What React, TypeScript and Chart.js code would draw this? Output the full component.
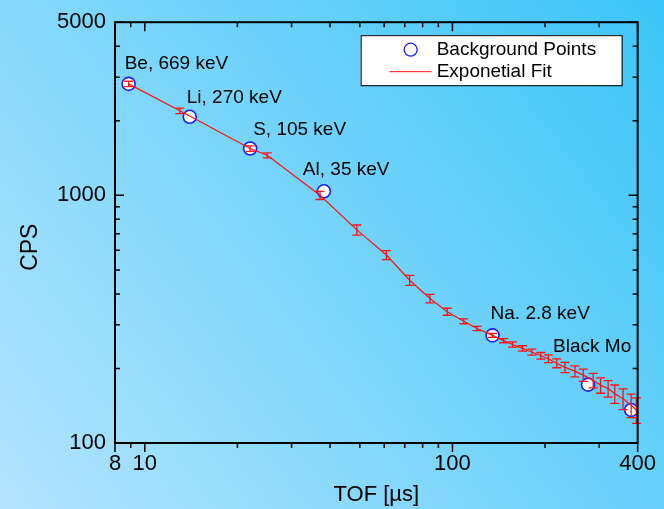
import { useEffect, useRef } from "react";
import { Chart, registerables } from "chart.js";

Chart.register(...registerables);

// ---- data ----
const bgTof = [8.86, 14.0, 22.0, 38.2, 135, 276, 381];
const bgCps = [2818, 2075, 1545, 1038, 272, 172, 136];
const bgLabels = ["Be, 669 keV", "Li, 270 keV", "S, 105 keV", "Al, 35 keV", "Na. 2.8 keV", "Black Mo", ""];

const fitTof = [8.86, 13.0, 22.0, 25.0, 37.1, 48.9, 61.0, 72.6, 84.5, 96.2, 108.8, 120.2, 135, 146.6, 156.8, 168.9, 181.2, 193.8, 205, 218.3, 232.2, 250.2, 266.2, 286.8, 303, 320.7, 337, 358.6, 381, 396.4];
const fitCps = [2818, 2194, 1545, 1451, 1000, 725, 574, 454, 383, 339, 310, 290, 272, 259, 250, 241, 233, 225, 219, 210, 202, 195, 188, 179, 171, 166, 158, 151, 142, 136];
const fitErr = [70, 55, 40, 34, 38, 34, 24, 21, 15, 11, 7, 5.5, 5, 5, 6, 6, 6.5, 7, 8, 8.7, 9.5, 10, 10.7, 12, 12.2, 12.7, 13.5, 14.5, 15.5, 16];

const xTicks = [8, 9, 10, 20, 30, 40, 50, 60, 70, 80, 90, 100, 200, 300, 400];
const xTickLabels = ["8", "", "10", "", "", "", "", "", "", "", "", "100", "", "", "400"];
const xMajor = [8, 10, 100, 400];
const yTicks = [100, 200, 300, 400, 500, 600, 700, 800, 900, 1000, 2000, 3000, 4000, 5000];
const yTickLabels = ["100", "", "", "", "", "", "", "", "", "1000", "", "", "", "5000"];
const yMajor = [100, 1000, 5000];

const xTitle = "TOF [µs]";
const yTitle = "CPS";
const legendLabels = ["Background Points", "Exponetial Fit"];

// ---- layout / style (not data) ----
const LABEL_OFFSETS: [number, number][] = [[-4, -15], [-3, -14], [3, -14], [-21, -16], [-2, -16], [-35, -33], [0, 0]];
const FONT = "'Liberation Sans', Arial, sans-serif";
const BLUE = "#1c1cff";
const RED = "#ff1010";

const decorPlugin = {
  id: "decor",
  beforeDraw(chart: any) {
    const { ctx, width, height } = chart;
    const g = ctx.createLinearGradient(0, height, width, 0);
    g.addColorStop(0, "#b4e4fd");
    g.addColorStop(1, "#3bc5f8");
    ctx.save();
    ctx.fillStyle = g;
    ctx.fillRect(0, 0, width, height);
    ctx.restore();
  },
  afterDatasetsDraw(chart: any) {
    const { ctx, chartArea: ca } = chart;
    const x = chart.scales.x;
    const y = chart.scales.y;

    // error bars
    ctx.save();
    ctx.strokeStyle = RED;
    ctx.lineWidth = 1.3;
    fitTof.forEach((t, i) => {
      const px = x.getPixelForValue(t);
      const top = y.getPixelForValue(fitCps[i] + fitErr[i]);
      const bot = y.getPixelForValue(fitCps[i] - fitErr[i]);
      ctx.beginPath();
      ctx.moveTo(px, top);
      ctx.lineTo(px, bot);
      ctx.moveTo(px - 4.5, top);
      ctx.lineTo(px + 4.5, top);
      ctx.moveTo(px - 4.5, bot);
      ctx.lineTo(px + 4.5, bot);
      ctx.stroke();
    });
    ctx.restore();

    // frame
    ctx.save();
    ctx.strokeStyle = "#000";
    ctx.lineWidth = 2;
    ctx.strokeRect(ca.left, ca.top, ca.right - ca.left, ca.bottom - ca.top);
    ctx.lineWidth = 1.5;
    ctx.beginPath();
    xTicks.forEach((v) => {
      const px = x.getPixelForValue(v);
      const len = xMajor.includes(v) ? 9 : 5;
      ctx.moveTo(px, ca.bottom);
      ctx.lineTo(px, ca.bottom + len);
      ctx.moveTo(px, ca.top);
      ctx.lineTo(px, ca.top + len);
    });
    yTicks.forEach((v) => {
      const py = y.getPixelForValue(v);
      const len = yMajor.includes(v) ? 9 : 5;
      ctx.moveTo(ca.left, py);
      ctx.lineTo(ca.left + len, py);
      ctx.moveTo(ca.right, py);
      ctx.lineTo(ca.right - len, py);
    });
    ctx.stroke();
    ctx.restore();

    // point annotations
    ctx.save();
    ctx.fillStyle = "#000";
    ctx.font = `19px ${FONT}`;
    ctx.textAlign = "left";
    ctx.textBaseline = "alphabetic";
    bgTof.forEach((t, i) => {
      if (!bgLabels[i]) return;
      const px = x.getPixelForValue(t);
      const py = y.getPixelForValue(bgCps[i]);
      ctx.fillText(bgLabels[i], px + LABEL_OFFSETS[i][0], py + LABEL_OFFSETS[i][1]);
    });
    ctx.restore();

    // legend
    ctx.save();
    const bx = ca.right - 277;
    const by = ca.top + 13;
    const bw = 261;
    const bh = 50;
    ctx.fillStyle = "#fff";
    ctx.fillRect(bx, by, bw, bh);
    ctx.strokeStyle = "#000";
    ctx.lineWidth = 1;
    ctx.strokeRect(bx + 0.5, by + 0.5, bw, bh);
    ctx.strokeStyle = BLUE;
    ctx.lineWidth = 1.3;
    ctx.beginPath();
    ctx.arc(bx + 50, by + 14.5, 6.5, 0, Math.PI * 2);
    ctx.stroke();
    ctx.strokeStyle = RED;
    ctx.lineWidth = 1;
    ctx.beginPath();
    ctx.moveTo(bx + 29, by + 36.5);
    ctx.lineTo(bx + 71, by + 36.5);
    ctx.stroke();
    ctx.fillStyle = "#000";
    ctx.font = `19px ${FONT}`;
    ctx.textAlign = "left";
    ctx.textBaseline = "middle";
    ctx.fillText(legendLabels[0], bx + 76, by + 15);
    ctx.fillText(legendLabels[1], bx + 76, by + 37);
    ctx.restore();

    // y title
    ctx.save();
    ctx.translate(ca.left - 84, ca.top + 225);
    ctx.rotate(-Math.PI / 2);
    ctx.fillStyle = "#000";
    ctx.font = `23px ${FONT}`;
    ctx.textAlign = "center";
    ctx.textBaseline = "middle";
    ctx.fillText(yTitle, 0, 0);
    ctx.restore();
  },
};

export default function App() {
  const ref = useRef<HTMLCanvasElement>(null);
  useEffect(() => {
    const prev = document.body.style.margin;
    document.body.style.margin = "0";
    const chart = new Chart(ref.current as HTMLCanvasElement, {
      type: "scatter",
      data: {
        datasets: [
          {
            label: legendLabels[1],
            data: fitTof.map((t, i) => ({ x: t, y: fitCps[i] })),
            showLine: true,
            borderColor: RED,
            borderWidth: 1.2,
            pointRadius: 0,
            tension: 0,
            order: 0,
          } as any,
          {
            label: legendLabels[0],
            data: bgTof.map((t, i) => ({ x: t, y: bgCps[i] })),
            borderColor: BLUE,
            backgroundColor: "#ffffff",
            borderWidth: 1.6,
            pointRadius: 6.5,
            showLine: false,
            order: 1,
          } as any,
        ],
      },
      options: {
        responsive: false,
        animation: false,
        devicePixelRatio: 1,
        layout: { padding: { top: 20, right: 24, left: 0, bottom: 0 } },
        plugins: { legend: { display: false }, tooltip: { enabled: false } },
        scales: {
          x: {
            type: "logarithmic",
            min: 8,
            max: 400,
            position: "bottom",
            afterBuildTicks: (s: any) => {
              s.ticks = xTicks.map((v) => ({ value: v }));
            },
            afterFit: (s: any) => {
              s.height = 66;
            },
            grid: { display: false, drawTicks: false },
            border: { display: false },
            ticks: {
              autoSkip: false,
              maxRotation: 0,
              padding: 8,
              color: "#000",
              font: { family: FONT, size: 22 },
              callback: (v: any) => {
                const i = xTicks.indexOf(Number(v));
                return i >= 0 ? xTickLabels[i] : "";
              },
            },
            title: {
              display: true,
              text: xTitle,
              color: "#000",
              font: { family: FONT, size: 22 },
              padding: { top: 0, bottom: 1 },
            },
          },
          y: {
            type: "logarithmic",
            min: 100,
            max: 5000,
            position: "left",
            afterBuildTicks: (s: any) => {
              s.ticks = yTicks.map((v) => ({ value: v }));
            },
            afterFit: (s: any) => {
              s.width = 115;
            },
            grid: { display: false, drawTicks: false },
            border: { display: false },
            ticks: {
              autoSkip: false,
              padding: 9,
              color: "#000",
              font: { family: FONT, size: 22 },
              callback: (v: any) => {
                const i = yTicks.indexOf(Number(v));
                return i >= 0 ? yTickLabels[i] : "";
              },
            },
            title: { display: false },
          },
        },
      } as any,
      plugins: [decorPlugin],
    });
    return () => {
      chart.destroy();
      document.body.style.margin = prev;
    };
  }, []);
  return (
    <div style={{ position: "absolute", left: 0, top: 0, width: 664, height: 509 }}>
      <canvas ref={ref} width={664} height={509} style={{ display: "block", width: 664, height: 509 }} />
    </div>
  );
}
